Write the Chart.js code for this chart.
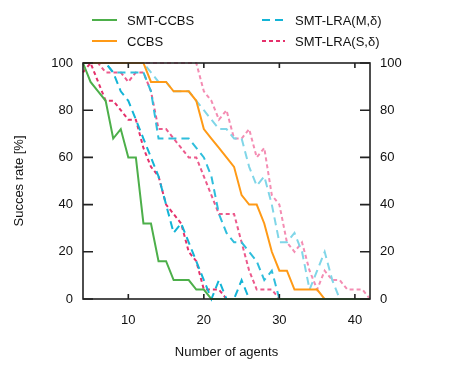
<!DOCTYPE html>
<html lang="en">
<head>
  <meta charset="UTF-8">
  <title>Succes rate vs number of agents</title>
  <style>
    body { margin: 0; background: #fff; }
    #wrap { width: 457px; height: 366px; }
  </style>
</head>
<body>
  <div id="wrap"><canvas id="rateChart" width="457" height="366"></canvas></div>
  <script src="https://cdn.jsdelivr.net/npm/chart.js"></script>
  <script>
    // x values (number of agents)
    const agents = [4, 5, 6, 7, 8, 9, 10, 11, 12, 13, 14, 15, 16, 17, 18, 19, 20, 21, 22, 23,
      24, 25, 26, 27, 28, 29, 30, 31, 32, 33, 34, 35, 36, 37, 38, 39, 40, 41, 42];

    const yTicks = [0, 20, 40, 60, 80, 100];
    const xTicks = [10, 20, 30, 40];

    // succes rate (%)
    const smtCcbs = [100, 92, 88, 84, 68, 72, 60, 60, 32, 32, 16, 16, 8, 8, 8, 4, 4, 0, 0, 0,
      0, 0, 0, 0, 0, 0, 0, 0, 0, 0, 0, 0, 0, 0, 0, 0, 0, 0, 0];
    const ccbs = [100, 100, 100, 100, 100, 100, 100, 100, 100, 92, 92, 92, 88, 88, 88, 84, 72, 68, 64, 60,
      56, 44, 40, 40, 32, 20, 12, 12, 4, 4, 4, 4, 0, 0, 0, 0, 0, 0, 0];
    const lraM1 = [100, 100, 100, 100, 96, 88, 84, 76, 68, 60, 52, 40, 28, 32, 24, 16, 8, 0, 8, 0,
      0, 8, 0, 0, 0, 0, 0, 0, 0, 0, 0, 0, 0, 0, 0, 0, 0, 0, 0];
    const lraS1 = [96, 100, 92, 84, 84, 80, 76, 76, 64, 56, 52, 40, 36, 32, 20, 16, 4, 4, 4, 0,
      0, 0, 0, 0, 0, 0, 0, 0, 0, 0, 0, 0, 0, 0, 0, 0, 0, 0, 0];
    const lraM2 = [100, 100, 100, 100, 96, 96, 96, 96, 96, 88, 68, 68, 68, 68, 68, 64, 60, 52, 36, 28,
      24, 24, 20, 16, 8, 12, 0, 0, 0, 0, 0, 0, 0, 0, 0, 0, 0, 0, 0];
    const lraS2 = [100, 100, 100, 96, 96, 96, 92, 96, 96, 88, 72, 72, 68, 64, 60, 60, 52, 44, 36, 36,
      36, 24, 12, 4, 4, 4, 0, 0, 0, 0, 0, 0, 0, 0, 0, 0, 0, 0, 0];
    const lraM3 = [100, 100, 100, 100, 100, 100, 100, 100, 100, 96, 92, 92, 88, 88, 88, 84, 80, 76, 72, 72,
      68, 68, 56, 48, 52, 40, 24, 24, 28, 20, 4, 12, 20, 8, 0, 0, 0, 0, 0];
    const lraS3 = [100, 100, 100, 100, 100, 100, 100, 100, 100, 100, 100, 100, 100, 100, 100, 100, 88, 84, 76, 80,
      68, 68, 72, 60, 64, 44, 40, 24, 20, 24, 12, 4, 12, 8, 8, 4, 4, 4, 0];

    const FONT = '"Liberation Sans", Arial, Helvetica, sans-serif';

    function pts(values) {
      return agents.map((a, i) => ({ x: a, y: values[i] }));
    }

    function series(label, values, color, dash, inLegend) {
      return {
        label, data: pts(values),
        borderColor: color, backgroundColor: color,
        borderWidth: 2, borderDash: dash, pointRadius: 0,
        tension: 0, clip: 3, inLegend
      };
    }

    // frame + inward ticks, like gnuplot (drawn over the lines)
    const framePlugin = {
      id: 'frame',
      afterDatasetsDraw(chart) {
        const { ctx, chartArea: a, scales } = chart;
        ctx.save();
        ctx.strokeStyle = '#222';
        ctx.lineWidth = 1.6;
        ctx.strokeRect(a.left, a.top, a.right - a.left, a.bottom - a.top);
        ctx.beginPath();
        yTicks.forEach(v => {
          const y = scales.y.getPixelForValue(v);
          ctx.moveTo(a.left, y); ctx.lineTo(a.left + 10, y);
          ctx.moveTo(a.right, y); ctx.lineTo(a.right - 10, y);
        });
        xTicks.forEach(v => {
          const x = scales.x.getPixelForValue(v);
          ctx.moveTo(x, a.bottom); ctx.lineTo(x, a.bottom - 5);
          ctx.moveTo(x, a.top); ctx.lineTo(x, a.top + 5);
        });
        ctx.stroke();
        ctx.restore();
      }
    };

    // two-column legend at the top
    const legendPlugin = {
      id: 'twoColLegend',
      afterDraw(chart) {
        const { ctx } = chart;
        const items = chart.data.datasets.filter(d => d.inLegend);
        const cols = [{ x0: 92, x1: 117, tx: 127 }, { x0: 262, x1: 285, tx: 295 }];
        const rows = [20, 41];
        ctx.save();
        ctx.font = '13px ' + FONT;
        ctx.textBaseline = 'middle';
        ctx.fillStyle = '#111';
        items.forEach((d, i) => {
          const c = cols[Math.floor(i / 2)];
          const y = rows[i % 2];
          ctx.strokeStyle = d.borderColor;
          ctx.lineWidth = 2;
          ctx.setLineDash(d.borderDash);
          ctx.beginPath();
          ctx.moveTo(c.x0, y); ctx.lineTo(c.x1, y);
          ctx.stroke();
          ctx.setLineDash([]);
          ctx.fillText(d.label, c.tx, y + 1);
        });
        ctx.restore();
      }
    };

    const tickFont = { family: FONT, size: 13 };

    new Chart(document.getElementById('rateChart'), {
      type: 'line',
      data: {
        datasets: [
          series('SMT-CCBS', smtCcbs, '#4daf4a', [], true),
          series('CCBS', ccbs, '#ff9a16', [], true),
          series('SMT-LRA(M,\u03b4)', lraM1, '#13b4d6', [8, 5], true),
          series('SMT-LRA(S,\u03b4)', lraS1, '#e5306b', [4, 3], true),
          series('SMT-LRA(M) b', lraM2, '#2fbedc', [8, 5], false),
          series('SMT-LRA(S) b', lraS2, '#ec5a8c', [4, 3], false),
          series('SMT-LRA(M) c', lraM3, '#80d6e8', [8, 5], false),
          series('SMT-LRA(S) c', lraS3, '#f48db3', [4, 3], false)
        ]
      },
      options: {
        responsive: false,
        animation: false,
        layout: { padding: { top: 63, left: 0, right: 0, bottom: 0 } },
        plugins: { legend: { display: false }, tooltip: { enabled: false } },
        scales: {
          x: {
            type: 'linear', min: 4, max: 42,
            afterFit: s => { s.height = 67; },
            afterBuildTicks: s => { s.ticks = xTicks.map(v => ({ value: v })); },
            grid: { display: false, drawTicks: false },
            border: { display: false },
            ticks: { color: '#111', font: tickFont, padding: 14, maxRotation: 0 },
            title: { display: true, text: 'Number of agents', color: '#111', font: tickFont, padding: { top: 0, bottom: 6 } }
          },
          y: {
            position: 'left', min: 0, max: 100,
            afterFit: s => { s.width = 83; },
            afterBuildTicks: s => { s.ticks = yTicks.map(v => ({ value: v })); },
            grid: { display: false, drawTicks: false },
            border: { display: false },
            ticks: { color: '#111', font: tickFont, padding: 10 },
            title: { display: true, text: 'Succes rate [%]', color: '#111', font: tickFont, padding: { top: 12, bottom: 0 } }
          },
          y2: {
            position: 'right', min: 0, max: 100,
            afterFit: s => { s.width = 87; },
            afterBuildTicks: s => { s.ticks = yTicks.map(v => ({ value: v })); },
            grid: { display: false, drawTicks: false },
            border: { display: false },
            ticks: { color: '#111', font: tickFont, padding: 10 }
          }
        }
      },
      plugins: [framePlugin, legendPlugin]
    });
  </script>
</body>
</html>
